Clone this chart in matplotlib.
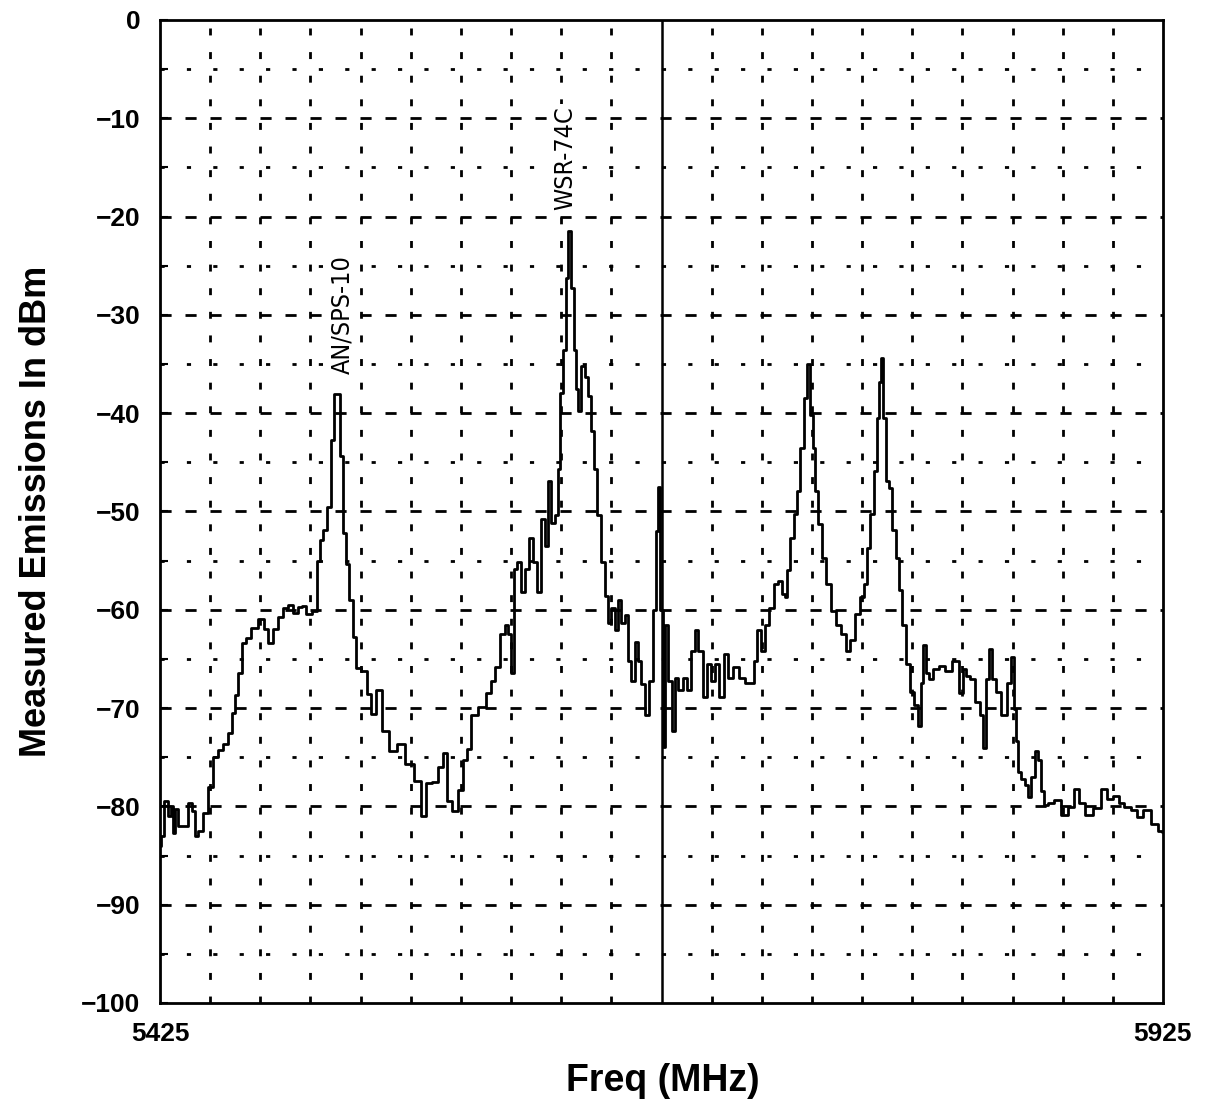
import numpy as np
import matplotlib.pyplot as plt

# trace (MHz, dBm)
freq = [5425, 5426, 5428, 5430, 5431, 5432, 5433, 5435, 5438, 5440, 5441.5, 5443, 5445, 5447.5,
        5450, 5452.5, 5455, 5458, 5460, 5461.5, 5463, 5465, 5466.5, 5469, 5472, 5476, 5478, 5480,
        5482.5, 5485, 5488, 5490, 5492.5, 5495, 5497, 5499, 5502.5, 5504, 5505, 5507.5, 5509,
        5511, 5512, 5514, 5515, 5517, 5518, 5520, 5522, 5523, 5527, 5529, 5531, 5534, 5537.5,
        5541, 5545, 5549, 5554, 5556, 5559, 5562, 5565, 5567, 5569, 5572, 5575, 5577, 5579,
        5581, 5586, 5589, 5591, 5593, 5596, 5598, 5599, 5600.5, 5602, 5604, 5606, 5608, 5610,
        5612, 5614, 5616, 5617.5, 5619, 5621, 5622.5, 5624, 5625, 5627, 5628, 5629, 5631, 5632,
        5633, 5634, 5636, 5637.5, 5639, 5641, 5642, 5644, 5646, 5647.5, 5649, 5651, 5652.5,
        5654, 5656, 5657.5, 5659, 5661, 5662.5, 5664, 5666, 5668, 5670, 5672, 5673, 5674, 5675,
        5676, 5677.5, 5679, 5681, 5682.5, 5684, 5687, 5688, 5691, 5692.5, 5694, 5697, 5698,
        5701, 5702.5, 5705, 5707, 5709, 5712, 5715, 5718, 5720, 5722, 5723, 5726, 5727.5, 5730,
        5732, 5734, 5736, 5737.5, 5738, 5740, 5742, 5743, 5745, 5747, 5748, 5750, 5751, 5752.5,
        5754, 5756, 5758, 5761, 5763, 5766, 5768, 5770, 5772.5, 5775, 5777, 5778, 5780, 5782,
        5783, 5784, 5785, 5786, 5788, 5789, 5791, 5792.5, 5794, 5796, 5798, 5800, 5802, 5804,
        5805, 5806, 5807.5, 5809, 5812, 5815, 5818, 5822, 5825, 5826, 5828, 5830, 5832.5, 5835,
        5836, 5837.5, 5839, 5841, 5843, 5846, 5848, 5850, 5851, 5852, 5853, 5855, 5857, 5858,
        5860, 5862, 5863, 5865, 5866, 5869, 5872.5, 5876, 5879, 5882, 5884, 5888, 5892.5, 5896,
        5898, 5902, 5904, 5907.5, 5911, 5913, 5917, 5921, 5924, 5925]
level = [-84, -83, -79.5, -81, -80, -82.7, -80.3, -82, -82, -79.7, -80.5, -83, -82.5, -80.7,
         -78, -75, -74.3, -73.7, -72.5, -70.5, -68.7, -66.4, -63.4, -62.9, -61.9, -60.9, -62, -63.4,
         -62, -60.7, -59.8, -59.5, -60.3, -59.7, -59.6, -60.4, -60.1, -55, -52.9, -51.9, -49.5,
         -42.7, -38, -38.1, -44.4, -52.2, -55.3, -59, -62.8, -65.9, -66.2, -68.6, -70.6, -68.2, -72.3,
         -74.4, -73.7, -75.7, -77.4, -81, -77.6, -77.5, -76, -74.6, -79.5, -80.5, -78.3, -75.3, -74.2,
         -70.7, -69.9, -68.5, -67.2, -65.8, -62.5, -61.5, -62.5, -66.4, -55.9, -55.1, -58.2, -55.9, -52.7,
         -55.1, -58.2, -50.8, -53.5, -46.9, -51.2, -50.4, -45.7, -37.9, -33.6, -26.2, -21.5, -27.3, -33.6,
         -37.5, -39.8, -35.2, -36.3, -38.3, -41.8, -45.7, -50.4, -55.1, -58.6, -61.3, -59.8, -62.1,
         -59, -61.3, -60.5, -65.2, -67.2, -63.3, -65.2, -67.6, -70.7, -67.2, -60, -52, -47.5, -60,
         -74, -61.5, -67.2, -72.3, -66.9, -68.2, -66.9, -68.2, -64.2, -62.1, -64.2, -68.9, -65.5,
         -67.2, -65.5, -68.9, -64.5, -66.9, -65.8, -66.9, -67.5, -67.5, -65.2, -62.1, -64.2, -61.5, -59.8,
         -57.4, -57.1, -58.4, -58.7, -56, -52.7, -50.3, -47.9, -43.5, -38.5, -35, -40.2, -43.5, -47.9,
         -51.3, -54.7, -57.4, -60.1, -61.5, -62.5, -64.2, -63.1, -60.4, -58.7, -57.4, -53.7, -50.3, -45.9,
         -40.5, -36.8, -34.4, -40.5, -46.9, -47.6, -51.9, -54.7, -58, -61.5, -65.5, -68.4, -69.7, -71.8,
         -67.4, -63.6, -66.4, -67, -66, -65.7, -66.2, -65.2, -68.5, -66, -66.7, -67, -69.4, -70.7,
         -74.1, -67, -64, -67, -68.4, -70.7, -67.4, -64.8, -70.1, -73.4, -76.5, -77.2, -77.8, -79,
         -77, -74.4, -75.3, -78.4, -79.9, -79.7, -79.4, -80.9, -80.1, -78.2, -79.7, -80.9, -80.2, -78.2,
         -79.2, -78.9, -79.7, -80.1, -80.4, -81.1, -80.4, -81.8, -82.5, -82.6]

labels = ['AN/SPS-10', 'WSR-74C']
label_f = [5516, 5627]
label_db = [-36, -19.3]

bold = {'family': ['Liberation Sans', 'DejaVu Sans'], 'weight': 'bold'}

fig = plt.figure(figsize=(12.17, 11.09), dpi=100)
ax = fig.add_axes([0.1315, 0.0956, 0.8241, 0.8864])

# grid
for f in np.arange(5450, 5925, 25):
    if f == 5675:
        ax.axvline(f, color='k', lw=1.8)
    else:
        ax.axvline(f, color='k', lw=2, ls=(0, (2.5, 6)))
for d in np.arange(-95, 0, 5):
    if d % 10 == 0:
        ax.axhline(d, color='k', lw=2, ls=(0, (4, 5)))
    else:
        ax.axhline(d, color='k', lw=2, ls=(0, (1.5, 8)))

ax.plot(freq, level, color='k', lw=2, drawstyle='steps-mid')

for t, f, d in zip(labels, label_f, label_db):
    ax.text(f, d, t, rotation=90, ha='center', va='bottom', fontsize=18,
            family='DejaVu Sans', stretch='condensed',
            bbox=dict(facecolor='white', edgecolor='none', pad=1))

ax.set_xlim(5425, 5925)
ax.set_ylim(-100, 0)
ax.set_yticks(np.arange(-100, 1, 10))
ax.set_yticks(np.arange(-95, 0, 10), minor=True)
ax.set_xticks([5425, 5925])
ax.tick_params(axis='y', which='both', direction='in', length=6, width=1.5, pad=14)
ax.tick_params(axis='x', length=0, pad=14)
for lab in ax.get_yticklabels() + ax.get_xticklabels():
    lab.set_fontsize(19)
    lab.set_fontweight('bold')
    lab.set_family(['Liberation Sans', 'DejaVu Sans'])
for s in ax.spines.values():
    s.set_linewidth(2)

ax.set_ylabel('Measured Emissions In dBm', fontsize=26, labelpad=20, **bold)
fig.text(0.545, 0.025, 'Freq (MHz)', ha='center', va='center', fontsize=27, **bold)

plt.savefig('out.png', dpi=100)
